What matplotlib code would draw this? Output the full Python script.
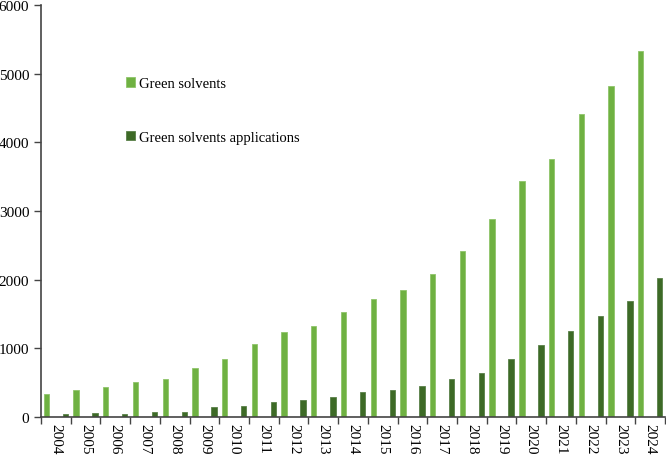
import numpy as np
import matplotlib.pyplot as plt

plt.rcParams['font.family'] = 'Liberation Serif'

years = ['2004', '2005', '2006', '2007', '2008', '2009', '2010', '2011', '2012', '2013',
         '2014', '2015', '2016', '2017', '2018', '2019', '2020', '2021', '2022', '2023', '2024']
green_solvents = [340, 390, 440, 510, 550, 720, 845, 1065, 1240, 1330,
                  1530, 1715, 1855, 2080, 2415, 2880, 3435, 3760, 4410, 4815, 5325]
applications = [40, 65, 50, 80, 80, 140, 165, 215, 245, 290,
                370, 400, 450, 560, 640, 840, 1045, 1255, 1470, 1690, 2025]

light = '#6fb142'
dark = '#3d6a26'

fig = plt.figure(figsize=(6.66, 4.56), dpi=100)
ax = fig.add_axes([0.0616, 0.0833, 0.937, 0.9035])

x = np.arange(len(years))
ax.bar(x - 0.32, green_solvents, width=0.18, color=light, edgecolor='#8fc46a', linewidth=0.6,
       label='Green solvents')
ax.bar(x + 0.32, applications, width=0.18, color=dark, edgecolor='#5a8048', linewidth=0.6,
       label='Green solvents applications')

ax.set_xlim(-0.5, len(years) - 0.5)
ax.set_ylim(0, 6000)
ax.set_yticks(range(0, 6001, 1000))
ax.tick_params(axis='y', labelsize=11, length=5, color='#444444', width=1)

ax.set_xticks(x)
ax.set_xticklabels(years, rotation=-90, fontsize=11)
ax.tick_params(axis='x', which='major', length=0, pad=4)
ax.set_xticks(np.arange(-0.5, len(years)), minor=True)
ax.tick_params(axis='x', which='minor', length=5, color='#444444', width=1)

for s in ['top', 'right']:
    ax.spines[s].set_visible(False)
for s in ['left', 'bottom']:
    ax.spines[s].set_color('#444444')
    ax.spines[s].set_linewidth(1.2)

ax.legend(loc='upper left', bbox_to_anchor=(0.115, 0.857), frameon=False, fontsize=10.5,
          labelspacing=2.8, handlelength=0.6, handleheight=0.6, handletextpad=0.3)

fig.savefig('out.png', dpi=100)
